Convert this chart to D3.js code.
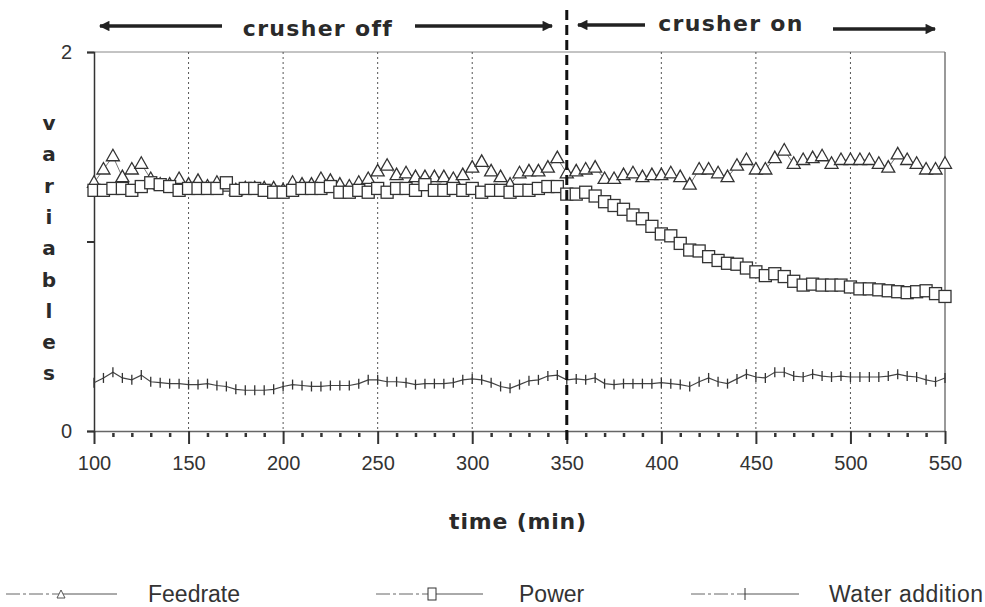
<!DOCTYPE html>
<html>
<head>
<meta charset="utf-8">
<script src="https://cdn.jsdelivr.net/npm/d3@7"></script>
<style>
  body { margin: 0; background: #fff; }
  svg { display: block; }
</style>
</head>
<body>
<svg id="chart"></svg>
<script>
// time in minutes, one sample every 5 min
const times = d3.range(100, 551, 5);

const feedrate = [
  1.31, 1.38, 1.45, 1.34, 1.38, 1.41, 1.33, 1.30, 1.30, 1.33,
  1.30, 1.32, 1.29, 1.31, 1.29, 1.27, 1.28, 1.28, 1.28, 1.28,
  1.27, 1.31, 1.30, 1.30, 1.33, 1.32, 1.30, 1.29, 1.31, 1.33,
  1.37, 1.40, 1.35, 1.36, 1.34, 1.34, 1.34, 1.34, 1.33, 1.35,
  1.39, 1.42, 1.37, 1.34, 1.30, 1.36, 1.37, 1.37, 1.39, 1.44,
  1.36, 1.37, 1.38, 1.39, 1.33, 1.33, 1.35, 1.36, 1.34, 1.35,
  1.35, 1.36, 1.34, 1.30, 1.38, 1.38, 1.36, 1.34, 1.40, 1.43,
  1.38, 1.38, 1.44, 1.48, 1.41, 1.43, 1.44, 1.45, 1.41, 1.43,
  1.43, 1.43, 1.43, 1.41, 1.39, 1.46, 1.43, 1.41, 1.38, 1.38,
  1.41
];

const power = [
  1.27, 1.27, 1.28, 1.28, 1.27, 1.29, 1.31, 1.30, 1.29, 1.27,
  1.28, 1.28, 1.28, 1.28, 1.31, 1.27, 1.28, 1.28, 1.27, 1.26,
  1.26, 1.27, 1.28, 1.28, 1.28, 1.29, 1.26, 1.26, 1.27, 1.26,
  1.28, 1.26, 1.28, 1.28, 1.27, 1.30, 1.27, 1.27, 1.28, 1.27,
  1.28, 1.26, 1.27, 1.27, 1.26, 1.27, 1.27, 1.28, 1.29, 1.29,
  1.25, 1.25, 1.26, 1.24, 1.21, 1.19, 1.17, 1.14, 1.12, 1.08,
  1.04, 1.03, 0.99, 0.955, 0.95, 0.92, 0.90, 0.885, 0.88, 0.86,
  0.84, 0.82, 0.83, 0.815, 0.79, 0.77, 0.775, 0.77, 0.77, 0.77,
  0.76, 0.75, 0.75, 0.745, 0.74, 0.735, 0.73, 0.735, 0.74, 0.725,
  0.71
];

const water = [
  0.255, 0.28, 0.31, 0.28, 0.27, 0.295, 0.26, 0.255, 0.25, 0.25,
  0.245, 0.245, 0.25, 0.24, 0.235, 0.22, 0.215, 0.215, 0.215, 0.22,
  0.235, 0.245, 0.24, 0.235, 0.235, 0.24, 0.24, 0.24, 0.25, 0.27,
  0.27, 0.26, 0.26, 0.255, 0.245, 0.25, 0.25, 0.25, 0.255, 0.27,
  0.275, 0.27, 0.255, 0.235, 0.225, 0.245, 0.265, 0.27, 0.29, 0.295,
  0.27, 0.275, 0.27, 0.28, 0.25, 0.245, 0.25, 0.25, 0.25, 0.25,
  0.255, 0.25, 0.245, 0.235, 0.26, 0.28, 0.26, 0.25, 0.275, 0.30,
  0.285, 0.28, 0.31, 0.31, 0.29, 0.285, 0.30, 0.29, 0.285, 0.29,
  0.285, 0.285, 0.285, 0.285, 0.29, 0.30, 0.29, 0.285, 0.27, 0.26,
  0.28
];

const xTicks = [100, 150, 200, 250, 300, 350, 400, 450, 500, 550];
const yTicks = [0, 2];
const switchTime = 350;
const legendNames = ["Feedrate", "Power", "Water addition"];

const W = 985, H = 607;
const svg = d3.select("#chart").attr("width", W).attr("height", H);

const x = d3.scaleLinear().domain([100, 550]).range([94, 945]);
const y = d3.scaleLinear().domain([0, 2]).range([431, 52]);

const INK = "#333";
const FONT = "'Liberation Sans', Arial, sans-serif";
const BOLD = "'DejaVu Sans', 'Liberation Sans', sans-serif";

// frame
svg.append("line").attr("x1", x(100)).attr("x2", x(550)).attr("y1", y(2)).attr("y2", y(2))
  .attr("stroke", "#888").attr("stroke-width", 1);
svg.append("line").attr("x1", x(550)).attr("x2", x(550)).attr("y1", y(2)).attr("y2", y(0))
  .attr("stroke", "#777").attr("stroke-width", 1.5);

// dotted grid
svg.append("g").selectAll("line")
  .data(xTicks.filter(t => t > 100 && t < 550 && t !== switchTime))
  .join("line")
  .attr("x1", d => x(d)).attr("x2", d => x(d))
  .attr("y1", y(2)).attr("y2", y(0))
  .attr("stroke", "#555").attr("stroke-width", 1)
  .attr("stroke-dasharray", "2,3");

// y axis
const yAxis = svg.append("g")
  .attr("transform", `translate(${x(100)},0)`)
  .call(d3.axisLeft(y).tickValues([0, 1, 2]).tickSize(7).tickFormat(d => yTicks.includes(d) ? d : ""));
yAxis.select(".domain").attr("stroke", INK).attr("stroke-width", 1.5);
yAxis.selectAll(".tick line").attr("stroke", INK).attr("stroke-width", 2);
yAxis.selectAll("text").attr("font-family", FONT).attr("font-size", 20).attr("fill", INK).attr("dx", -12);

// x axis: minor ticks every 10, major every 50
const xMinor = svg.append("g")
  .attr("transform", `translate(0,${y(0)})`)
  .call(d3.axisBottom(x).tickValues(d3.range(100, 551, 10).filter(t => t % 50 !== 0)).tickSize(6).tickFormat(""));
xMinor.select(".domain").remove();
xMinor.selectAll(".tick line").attr("stroke", INK).attr("stroke-width", 2.5).attr("y1", 2);

const xAxis = svg.append("g")
  .attr("transform", `translate(0,${y(0)})`)
  .call(d3.axisBottom(x).tickValues(xTicks).tickSize(13).tickSizeOuter(0).tickPadding(12));
xAxis.select(".domain").attr("stroke", "#666").attr("stroke-width", 1.5);
xAxis.selectAll(".tick line").attr("stroke", INK).attr("stroke-width", 2);
xAxis.selectAll("text").attr("font-family", FONT).attr("font-size", 20).attr("fill", INK);

// lines
const line = vals => d3.line().x((d, i) => x(times[i])).y(d => y(d))(vals);

svg.append("path").attr("d", line(feedrate)).attr("fill", "none").attr("stroke", "#777").attr("stroke-width", 1);
svg.append("path").attr("d", line(power)).attr("fill", "none").attr("stroke", "#666").attr("stroke-width", 1);
svg.append("path").attr("d", line(water)).attr("fill", "none").attr("stroke", "#444").attr("stroke-width", 1.2);

// markers
const triPath = "M0,-7L6.5,4.5L-6.5,4.5Z";
svg.append("g").selectAll("path")
  .data(feedrate)
  .join("path")
  .attr("d", triPath)
  .attr("transform", (d, i) => `translate(${x(times[i])},${y(d)})`)
  .attr("fill", "#fff").attr("stroke", INK).attr("stroke-width", 1.3);

svg.append("g").selectAll("rect")
  .data(power)
  .join("rect")
  .attr("x", (d, i) => x(times[i]) - 6)
  .attr("y", d => y(d) - 6)
  .attr("width", 12).attr("height", 12)
  .attr("fill", "#fff").attr("stroke", INK).attr("stroke-width", 1.3);

svg.append("g").selectAll("line")
  .data(water)
  .join("line")
  .attr("x1", (d, i) => x(times[i])).attr("x2", (d, i) => x(times[i]))
  .attr("y1", d => y(d) - 5).attr("y2", d => y(d) + 5)
  .attr("stroke", INK).attr("stroke-width", 1.3);

// crusher switch line
svg.append("line")
  .attr("x1", x(switchTime)).attr("x2", x(switchTime))
  .attr("y1", 10).attr("y2", 442)
  .attr("stroke", "#111").attr("stroke-width", 3)
  .attr("stroke-dasharray", "10,5");

// header arrows and labels
const defs = svg.append("defs");
defs.append("marker").attr("id", "head")
  .attr("viewBox", "0 0 10 10").attr("refX", 9).attr("refY", 5)
  .attr("markerWidth", 5).attr("markerHeight", 3).attr("markerUnits", "strokeWidth")
  .attr("orient", "auto-start-reverse")
  .append("path").attr("d", "M0,0L10,5L0,10Z").attr("fill", "#222");

const arrows = [
  { x1: 100, x2: 222, y: 26, start: true },
  { x1: 415, x2: 552, y: 26, end: true },
  { x1: 578, x2: 645, y: 25, start: true },
  { x1: 833, x2: 935, y: 29, end: true }
];
svg.append("g").selectAll("line")
  .data(arrows)
  .join("line")
  .attr("x1", d => d.x1).attr("x2", d => d.x2).attr("y1", d => d.y).attr("y2", d => d.y)
  .attr("stroke", "#222").attr("stroke-width", 3.5)
  .attr("marker-start", d => d.start ? "url(#head)" : null)
  .attr("marker-end", d => d.end ? "url(#head)" : null);

svg.append("text").attr("x", 318).attr("y", 36).attr("text-anchor", "middle")
  .attr("font-family", BOLD).attr("font-weight", "bold").attr("font-size", 22)
  .attr("letter-spacing", 1.3).attr("fill", "#2a2a2a").text("crusher  off");
svg.append("text").attr("x", 731).attr("y", 31).attr("text-anchor", "middle")
  .attr("font-family", BOLD).attr("font-weight", "bold").attr("font-size", 22)
  .attr("letter-spacing", 1.3).attr("fill", "#2a2a2a").text("crusher  on");

// y label stacked letters
svg.append("g").selectAll("text")
  .data("variables".split(""))
  .join("text")
  .attr("x", 49).attr("y", (d, i) => 130 + i * 31.3)
  .attr("text-anchor", "middle")
  .attr("font-family", BOLD).attr("font-weight", "bold").attr("font-size", 20)
  .attr("fill", "#2a2a2a").text(d => d);

// x label
svg.append("text").attr("x", 518).attr("y", 529).attr("text-anchor", "middle")
  .attr("font-family", BOLD).attr("font-weight", "bold").attr("font-size", 22)
  .attr("letter-spacing", 0.8).attr("fill", "#2a2a2a").text("time  (min)");

// legend
const legend = [
  { name: legendNames[0], x1: 6, x2: 117, mx: 61, tx: 148, kind: "tri" },
  { name: legendNames[1], x1: 376, x2: 483, mx: 432, tx: 519, kind: "sq" },
  { name: legendNames[2], x1: 691, x2: 799, mx: 745, tx: 829, kind: "plus" }
];
const ly = 594;
const lg = svg.append("g").selectAll("g").data(legend).join("g");
lg.append("line").attr("x1", d => d.x1).attr("x2", d => d.mx).attr("y1", ly).attr("y2", ly)
  .attr("stroke", "#666").attr("stroke-width", 1).attr("stroke-dasharray", "14,3,3,3");
lg.append("line").attr("x1", d => d.mx).attr("x2", d => d.x2).attr("y1", ly).attr("y2", ly)
  .attr("stroke", "#555").attr("stroke-width", 1);
lg.filter(d => d.kind === "tri").append("path")
  .attr("d", "M0,-5L4,3L-4,3Z")
  .attr("transform", d => `translate(${d.mx},${ly + 1})`)
  .attr("fill", "#fff").attr("stroke", "#555");
lg.filter(d => d.kind === "sq").append("rect")
  .attr("x", d => d.mx - 4).attr("y", ly - 6).attr("width", 8).attr("height", 12)
  .attr("fill", "#fff").attr("stroke", "#333");
lg.filter(d => d.kind === "plus").append("line")
  .attr("x1", d => d.mx).attr("x2", d => d.mx).attr("y1", ly - 6).attr("y2", ly + 6)
  .attr("stroke", "#333");
lg.append("text").attr("x", d => d.tx).attr("y", ly + 8)
  .attr("font-family", FONT).attr("font-size", 23).attr("fill", "#333")
  .attr("textLength", d => d.kind === "plus" ? 154 : null)
  .text(d => d.name);
</script>
</body>
</html>
